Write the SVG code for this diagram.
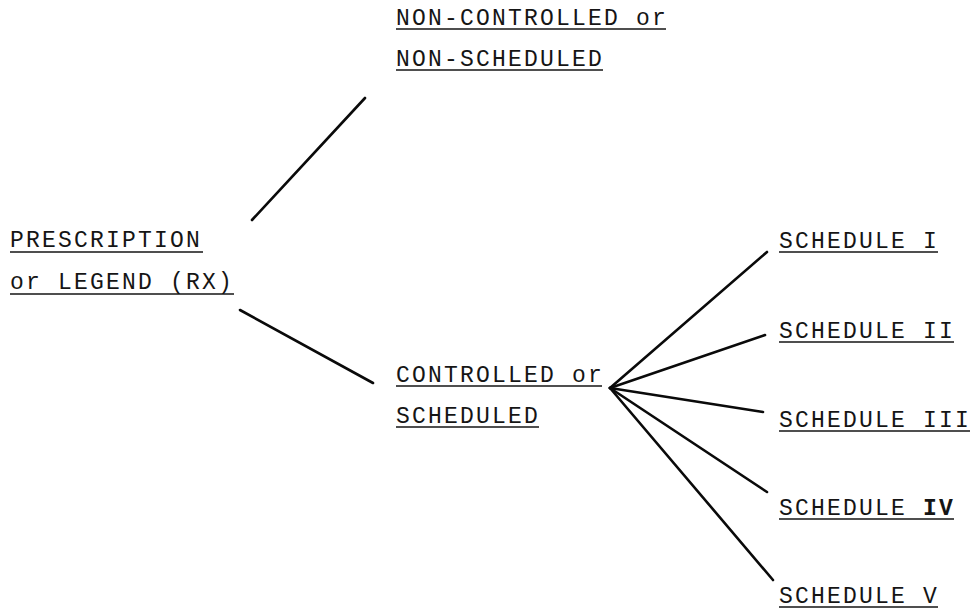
<svg xmlns="http://www.w3.org/2000/svg" width="975" height="613" viewBox="0 0 975 613">
<style>
.t{font-family:"Liberation Mono","Courier New",monospace;font-size:23px;letter-spacing:2.2px;fill:#151515}
.u{stroke:#151515;stroke-width:1.6}
.c{stroke:#0a0a0a;stroke-width:2.6;stroke-linecap:round;fill:none}
</style>
<rect width="975" height="613" fill="#ffffff"/>
<g id="connectors">
<line class="c" x1="252" y1="220" x2="365" y2="98"/>
<line class="c" x1="240" y1="310" x2="373" y2="383"/>
<line class="c" x1="610" y1="388" x2="767" y2="252"/>
<line class="c" x1="610" y1="388" x2="765" y2="335"/>
<line class="c" x1="610" y1="388" x2="763" y2="412"/>
<line class="c" x1="610" y1="388" x2="767" y2="492"/>
<line class="c" x1="610" y1="388" x2="773" y2="580"/>
</g>
<g id="node-rx">
<text class="t" x="10" y="247">PRESCRIPTION</text>
<line class="u" x1="10" y1="252" x2="203" y2="252"/>
<text class="t" x="10" y="289">or LEGEND (RX)</text>
<line class="u" x1="10" y1="294" x2="234" y2="294"/>
</g>
<g id="node-noncontrolled">
<text class="t" x="396" y="25">NON-CONTROLLED or</text>
<line class="u" x1="396" y1="29" x2="666" y2="29"/>
<text class="t" x="396" y="66">NON-SCHEDULED</text>
<line class="u" x1="396" y1="70" x2="603" y2="70"/>
</g>
<g id="node-controlled">
<text class="t" x="396" y="382">CONTROLLED or</text>
<line class="u" x1="396" y1="386" x2="602" y2="386"/>
<text class="t" x="396" y="423">SCHEDULED</text>
<line class="u" x1="396" y1="427" x2="539" y2="427"/>
</g>
<g id="node-s1">
<text class="t" x="779" y="248">SCHEDULE I</text>
<line class="u" x1="779" y1="252" x2="938" y2="252"/>
</g>
<g id="node-s2">
<text class="t" x="779" y="338">SCHEDULE II</text>
<line class="u" x1="779" y1="342" x2="954" y2="342"/>
</g>
<g id="node-s3">
<text class="t" x="779" y="427">SCHEDULE III</text>
<line class="u" x1="779" y1="431" x2="970" y2="431"/>
</g>
<g id="node-s4">
<text class="t" x="779" y="515">SCHEDULE <tspan font-weight="bold">IV</tspan></text>
<line class="u" x1="779" y1="519" x2="954" y2="519"/>
</g>
<g id="node-s5">
<text class="t" x="779" y="603">SCHEDULE V</text>
<line class="u" x1="779" y1="607" x2="938" y2="607"/>
</g>
</svg>
